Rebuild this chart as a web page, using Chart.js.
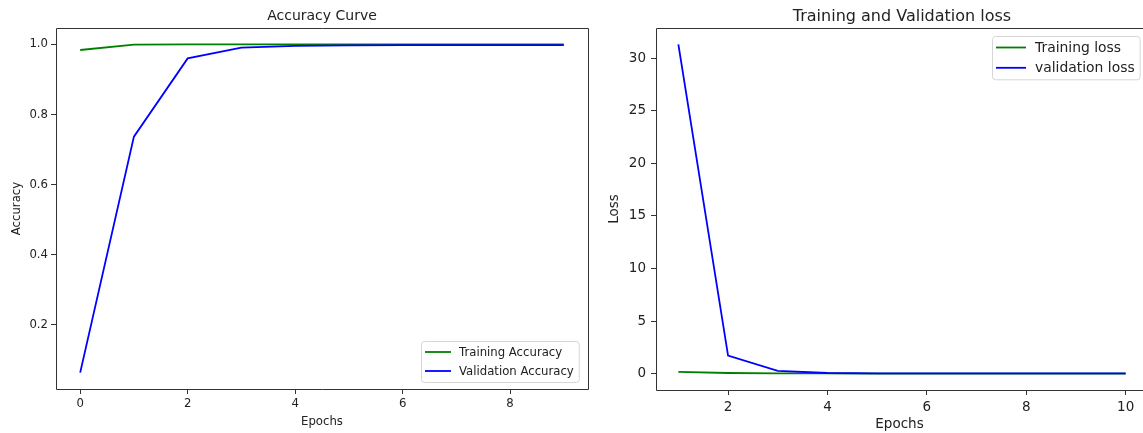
<!DOCTYPE html>
<html>
<head>
<meta charset="utf-8">
<script src="https://cdn.jsdelivr.net/npm/chart.js@4.4.1/dist/chart.umd.min.js"></script>
<style>
  html, body { margin: 0; padding: 0; background: #fff; overflow: hidden; width: 1143px; height: 433px; }
  .box { position: absolute; top: 0; height: 433px; }
  #leftBox { left: 0; width: 600px; }
  #rightBox { left: 600px; width: 543px; }
</style>
</head>
<body>
<div class="box" id="leftBox"><canvas id="accChart" width="600" height="433"></canvas></div>
<div class="box" id="rightBox"><canvas id="lossChart" width="543" height="433"></canvas></div>
<script>
// ---- accuracy curve data ----
const accEpochs = [0, 1, 2, 3, 4, 5, 6, 7, 8, 9];
const trainAcc = [0.984, 0.9995, 1.0, 1.0, 1.0, 1.0, 1.0, 1.0, 1.0, 1.0];
const valAcc = [0.064, 0.737, 0.960, 0.991, 0.996, 0.997, 0.998, 0.998, 0.998, 0.998];
const accXTicks = [0, 2, 4, 6, 8];
const accYTicks = [0.2, 0.4, 0.6, 0.8, 1.0];

// ---- loss curve data ----
const lossEpochs = [1, 2, 3, 4, 5, 6, 7, 8, 9, 10];
const trainLoss = [0.17, 0.06, 0.03, 0.02, 0.01, 0.01, 0.01, 0.01, 0.01, 0.01];
const valLoss = [31.3, 1.71, 0.26, 0.06, 0.03, 0.02, 0.02, 0.02, 0.02, 0.02];
const lossXTicks = [2, 4, 6, 8, 10];
const lossYTicks = [0, 5, 10, 15, 20, 25, 30];

const FONT = '"DejaVu Sans", sans-serif';
const TEXT = '#222';
const SPINE = '#333';

// matplotlib style 5% margins
function limits(vals) {
    const lo = Math.min(...vals), hi = Math.max(...vals);
    const m = (hi - lo) * 0.05;
    return { min: lo - m, max: hi + m };
}

function pts(xs, ys) {
    return xs.map((x, i) => ({ x: x, y: ys[i] }));
}

function roundBox(ctx, x, y, w, h, r) {
    ctx.beginPath();
    ctx.moveTo(x + r, y);
    ctx.lineTo(x + w - r, y);
    ctx.arcTo(x + w, y, x + w, y + r, r);
    ctx.lineTo(x + w, y + h - r);
    ctx.arcTo(x + w, y + h, x + w - r, y + h, r);
    ctx.lineTo(x + r, y + h);
    ctx.arcTo(x, y + h, x, y + h - r, r);
    ctx.lineTo(x, y + r);
    ctx.arcTo(x, y, x + r, y, r);
    ctx.closePath();
}

// axes frame, title and matplotlib-like legend
const framePlugin = {
    id: 'frame',
    afterDraw(chart, args, o) {
        const { ctx, chartArea: a } = chart;
        const L = Math.round(a.left) + 0.5, T = Math.round(a.top) + 0.5;
        const R = Math.round(a.right) + 0.5, B = Math.round(a.bottom) + 0.5;
        ctx.save();
        ctx.strokeStyle = SPINE;
        ctx.lineWidth = 1;
        ctx.beginPath();
        ctx.moveTo(R, T); ctx.lineTo(L, T); ctx.lineTo(L, B); ctx.lineTo(R, B);
        if (o.rightSpine) ctx.lineTo(R, T);
        ctx.stroke();

        ctx.fillStyle = TEXT;
        ctx.font = o.titleSize + 'px ' + FONT;
        ctx.textAlign = 'center';
        ctx.textBaseline = 'alphabetic';
        ctx.fillText(o.title, o.titleX != null ? o.titleX : (a.left + a.right) / 2, a.top - o.titleGap);

        // legend
        const ds = chart.data.datasets;
        ctx.font = o.legendSize + 'px ' + FONT;
        const textW = Math.max(...ds.map(d => ctx.measureText(d.label).width));
        const w = 4 + o.handle + o.gap + textW + 5;
        const h = o.rowH * (ds.length - 1) + 2 * o.edge;
        const x = Math.round(a.right - o.insetX - w);
        const y = Math.round(o.loc === 'lower right' ? a.bottom - o.insetY - h : a.top + o.insetY);
        roundBox(ctx, x + 0.5, y + 0.5, w, h, 3);
        ctx.fillStyle = 'rgba(255,255,255,0.85)';
        ctx.fill();
        ctx.strokeStyle = '#d6d6d6';
        ctx.stroke();
        ctx.textAlign = 'left';
        ctx.textBaseline = 'middle';
        ds.forEach((d, i) => {
            const cy = y + o.edge + i * o.rowH;
            ctx.strokeStyle = d.borderColor;
            ctx.lineWidth = d.borderWidth;
            ctx.beginPath();
            ctx.moveTo(x + 4, cy);
            ctx.lineTo(x + 4 + o.handle, cy);
            ctx.stroke();
            ctx.fillStyle = TEXT;
            ctx.fillText(d.label, x + 4 + o.handle + o.gap, cy + 1);
        });
        ctx.restore();
    }
};

function axis(lim, tickList, fmt, fontSize, pad, title, titlePad, fixedSize, isX) {
    return {
        type: 'linear',
        min: lim.min,
        max: lim.max,
        afterBuildTicks: s => { s.ticks = tickList.map(v => ({ value: v })); },
        afterFit: s => { if (isX) s.height = fixedSize; else s.width = fixedSize; },
        grid: { drawOnChartArea: false, drawTicks: true, tickLength: 5, color: SPINE },
        border: { display: false },
        ticks: {
            color: TEXT,
            padding: pad,
            maxRotation: 0,
            font: { family: FONT, size: fontSize },
            callback: v => fmt(v)
        },
        title: {
            display: true,
            text: title,
            color: TEXT,
            font: { family: FONT, size: fontSize },
            padding: titlePad
        }
    };
}

function lineSet(label, data, color, order) {
    return {
        label: label,
        data: data,
        borderColor: color,
        backgroundColor: color,
        borderWidth: 1.8,
        pointRadius: 0,
        tension: 0,
        fill: false,
        order: order
    };
}

// ==========================================
// LEFT: ACCURACY CURVE
// ==========================================
new Chart(document.getElementById('accChart'), {
    type: 'line',
    data: {
        datasets: [
            lineSet('Training Accuracy', pts(accEpochs, trainAcc), '#008000', 1),
            lineSet('Validation Accuracy', pts(accEpochs, valAcc), '#0000ff', 0)
        ]
    },
    options: {
        responsive: false,
        animation: false,
        layout: { padding: { left: 0, right: 12, top: 28, bottom: 0 } },
        scales: {
            x: axis(limits(accEpochs), accXTicks, v => String(v), 11.7, 3, 'Epochs', { top: 0, bottom: 4 }, 44, true),
            y: axis(limits(trainAcc.concat(valAcc)), accYTicks, v => v.toFixed(1), 11.7, 3, 'Accuracy', { top: 10, bottom: 0 }, 56, false)
        },
        plugins: {
            legend: { display: false },
            tooltip: { enabled: false },
            frame: {
                title: 'Accuracy Curve', titleSize: 14, titleGap: 8, rightSpine: true,
                legendSize: 11.7, loc: 'lower right', insetX: 9, insetY: 7,
                handle: 26, gap: 8, rowH: 19, edge: 11
            }
        }
    },
    plugins: [framePlugin]
});

// ==========================================
// RIGHT: TRAINING AND VALIDATION LOSS
// (axes box runs past the window edge, so only the visible part of the x range is shown)
// ==========================================
const lossXLim = limits(lossEpochs);
const visibleFrac = (1143 - 656) / (1148 - 656);
lossXLim.max = lossXLim.min + (lossXLim.max - lossXLim.min) * visibleFrac;

new Chart(document.getElementById('lossChart'), {
    type: 'line',
    data: {
        datasets: [
            lineSet('Training loss', pts(lossEpochs, trainLoss), '#008000', 1),
            lineSet('validation loss', pts(lossEpochs, valLoss), '#0000ff', 0)
        ]
    },
    options: {
        responsive: false,
        animation: false,
        layout: { padding: { left: 0, right: 0, top: 28, bottom: 0 } },
        scales: {
            x: axis(lossXLim, lossXTicks, v => String(v), 13.5, 4, 'Epochs', { top: 0, bottom: 0 }, 43, true),
            y: axis(limits(trainLoss.concat(valLoss)), lossYTicks, v => String(v), 13.5, 5, 'Loss', { top: 6, bottom: 0 }, 56, false)
        },
        plugins: {
            legend: { display: false },
            tooltip: { enabled: false },
            frame: {
                title: 'Training and Validation loss', titleSize: 16, titleGap: 7, titleX: 302, rightSpine: false,
                legendSize: 13.9, loc: 'upper right', insetX: 3, insetY: 8,
                handle: 30, gap: 9, rowH: 20.3, edge: 11.5
            }
        }
    },
    plugins: [framePlugin]
});
</script>
</body>
</html>
